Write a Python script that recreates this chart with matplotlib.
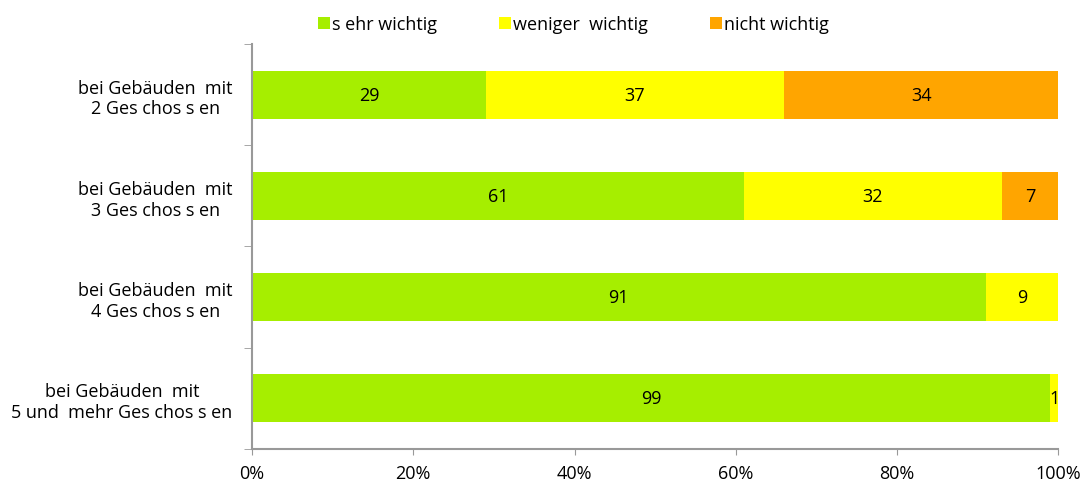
import numpy as np
import matplotlib.pyplot as plt
from matplotlib.patches import Patch

plt.rcParams['font.family'] = ['Open Sans', 'DejaVu Sans']

categories = ['bei Gebäuden  mit\n2 Ges chos s en',
              'bei Gebäuden  mit\n3 Ges chos s en',
              'bei Gebäuden  mit\n4 Ges chos s en',
              'bei Gebäuden  mit\n5 und  mehr Ges chos s en']
series_names = ['s ehr wichtig', 'weniger  wichtig', 'nicht wichtig']
sehr = [29, 61, 91, 99]
weniger = [37, 32, 9, 1]
nicht = [34, 7, 0, 0]
colors = ['#A6EE00', '#FFFF00', '#FFA500']
xticks = [0, 20, 40, 60, 80, 100]
xtick_labels = ['0%', '20%', '40%', '60%', '80%', '100%']

fs = 13

fig = plt.figure(figsize=(10.91, 4.89), dpi=100)
ax = fig.add_axes([0.231, 0.080, 0.739, 0.828])

y = np.arange(len(categories))[::-1]
left = np.zeros(len(categories))
for vals, name, col in zip([sehr, weniger, nicht], series_names, colors):
    vals = np.array(vals, dtype=float)
    ax.barh(y, vals, left=left, height=0.475, color=col, label=name)
    for yi, v, l in zip(y, vals, left):
        if v > 0:
            ax.text(l + v / 2, yi, f'{int(v)}', ha='center', va='center', fontsize=fs, color='black')
    left += vals

ax.set_xlim(0, 100)
ax.set_ylim(-0.5, len(categories) - 0.5)
ax.set_xticks(xticks)
ax.set_xticklabels(xtick_labels, fontsize=fs)
ax.set_yticks(y)
ax.set_yticklabels(categories, fontsize=fs, linespacing=1.2)
for lab in ax.get_yticklabels():
    lab.set_multialignment('center')
ax.tick_params(axis='y', length=0, pad=14)
ax.tick_params(axis='x', length=4, color='#999999', pad=7)
# boundary ticks on y axis
ax.set_yticks(np.arange(-0.5, len(categories)), minor=True)
ax.tick_params(axis='y', which='minor', length=6, color='#999999')

for s in ['top', 'right']:
    ax.spines[s].set_visible(False)
for s in ['left', 'bottom']:
    ax.spines[s].set_color('#999999')
    ax.spines[s].set_linewidth(1.5)

handles = [Patch(facecolor=c, edgecolor='none') for c in colors]
fig.legend(handles, series_names, loc='upper left', bbox_to_anchor=(0.277, 1.0), ncol=3,
           frameon=False, fontsize=fs, handlelength=0.65, handleheight=0.65, handletextpad=0.1,
           columnspacing=3.45)

fig.savefig('out.png', dpi=100)
